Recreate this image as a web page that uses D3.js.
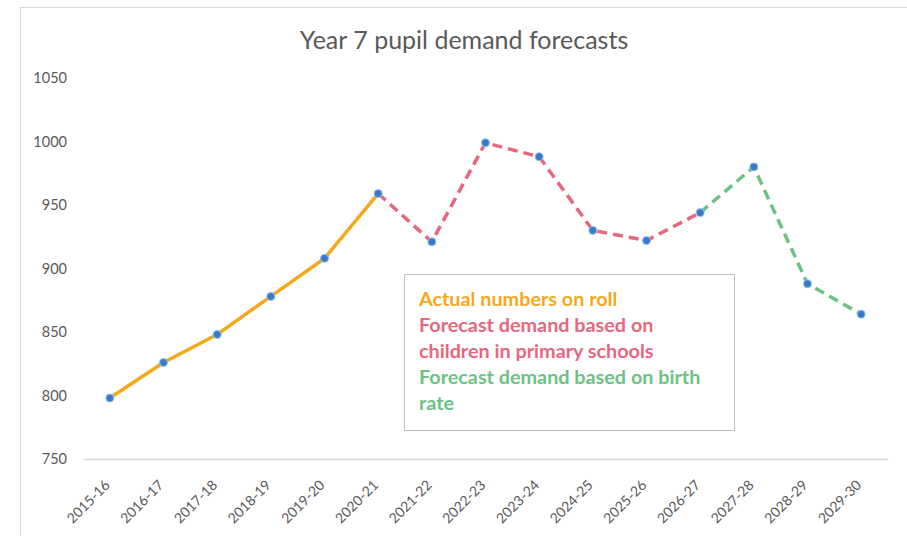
<!DOCTYPE html>
<html>
<head>
  <title>Year 7 pupil demand forecasts</title>
  <script src="https://d3js.org/d3.v7.min.js"></script>
  <style>
    body { margin: 0; background: #fff; }
    text { font-family: Lato, "Open Sans", sans-serif; }
  </style>
</head>
<body>
<script type="text/javascript">
  var w = 907;
  var h = 536;

  // data
  var years = ["2015-16","2016-17","2017-18","2018-19","2019-20","2020-21","2021-22",
               "2022-23","2023-24","2024-25","2025-26","2026-27","2027-28","2028-29","2029-30"];
  var pupils = [798, 826, 848, 878, 908, 959, 921, 999, 988, 930, 922, 944, 980, 888, 864];
  var yTicks = [750, 800, 850, 900, 950, 1000, 1050];

  var actualYears = years.slice(0, 6);
  var primaryYears = years.slice(5, 12);
  var birthYears = years.slice(11);

  var legendLines = [
    { text: "Actual numbers on roll", color: "#F5A81C" },
    { text: "Forecast demand based on", color: "#E8667E" },
    { text: "children in primary schools", color: "#E8667E" },
    { text: "Forecast demand based on birth", color: "#6CC282" },
    { text: "rate", color: "#6CC282" }
  ];

  var svg = d3.select("body").append("svg")
    .attr("width", w)
    .attr("height", h);

  // chart frame
  svg.append("rect")
    .attr("x", 20.5).attr("y", 7.5)
    .attr("width", 900).attr("height", 540)
    .attr("fill", "#fff")
    .attr("stroke", "#D9D9D9");

  svg.append("text")
    .attr("x", 464).attr("y", 49)
    .attr("text-anchor", "middle")
    .attr("font-size", "25px")
    .attr("fill", "#595959")
    .text("Year 7 pupil demand forecasts");

  var xScale = d3.scaleBand()
    .domain(years)
    .range([83, 888]);

  var yScale = d3.scaleLinear()
    .domain([750, 1050])
    .range([459, 78]);

  var xc = function(y){ return xScale(y) + xScale.bandwidth() / 2; };

  // y labels
  var yAxis = svg.append("g")
    .attr("transform", "translate(67,0)")
    .call(d3.axisLeft(yScale).tickValues(yTicks).tickFormat(d3.format("d")).tickSize(0).tickPadding(0));
  yAxis.select(".domain").remove();
  yAxis.selectAll("text")
    .attr("font-size", "14.5px")
    .attr("fill", "#595959")
    .attr("font-family", "Lato, sans-serif");

  // x axis
  var xAxis = svg.append("g")
    .attr("transform", "translate(0,459)")
    .call(d3.axisBottom(xScale).tickSize(0).tickPadding(0));
  xAxis.select(".domain").attr("stroke", "#D9D9D9").attr("stroke-width", 1.5);
  xAxis.selectAll("text")
    .attr("font-size", "14px")
    .attr("fill", "#595959")
    .attr("font-family", "Lato, sans-serif")
    .attr("text-anchor", "end")
    .attr("dy", "0")
    .attr("transform", "translate(1,27) rotate(-45)");

  var valueOf = function(y){ return pupils[years.indexOf(y)]; };

  var line = d3.line()
    .x(function(d){ return xc(d); })
    .y(function(d){ return yScale(valueOf(d)); });

  svg.append("path")
    .attr("d", line(actualYears))
    .attr("fill", "none")
    .attr("stroke", "#F5A81C")
    .attr("stroke-width", 3.5);

  svg.append("path")
    .attr("d", line(primaryYears))
    .attr("fill", "none")
    .attr("stroke", "#E8667E")
    .attr("stroke-width", 3.5)
    .attr("stroke-dasharray", "10,6");

  svg.append("path")
    .attr("d", line(birthYears))
    .attr("fill", "none")
    .attr("stroke", "#6CC282")
    .attr("stroke-width", 3.5)
    .attr("stroke-dasharray", "10,6");

  svg.selectAll("circle.pt")
    .data(years)
    .enter()
    .append("circle")
    .attr("class", "pt")
    .attr("cx", function(d){ return xc(d); })
    .attr("cy", function(d){ return yScale(valueOf(d)); })
    .attr("r", 4)
    .attr("fill", "#3B78C9")
    .attr("stroke", "#8FC3EA")
    .attr("stroke-width", 1);

  // legend box
  svg.append("rect")
    .attr("x", 404.5).attr("y", 274.5)
    .attr("width", 330).attr("height", 156)
    .attr("fill", "#fff")
    .attr("stroke", "#BFBFBF");

  svg.selectAll("text.leg")
    .data(legendLines)
    .enter()
    .append("text")
    .attr("class", "leg")
    .attr("x", 419)
    .attr("y", function(d, i){ return 306 + i * 26; })
    .attr("font-size", "19.8px")
    .attr("font-weight", "bold")
    .attr("fill", function(d){ return d.color; })
    .text(function(d){ return d.text; });
</script>
</body>
</html>
